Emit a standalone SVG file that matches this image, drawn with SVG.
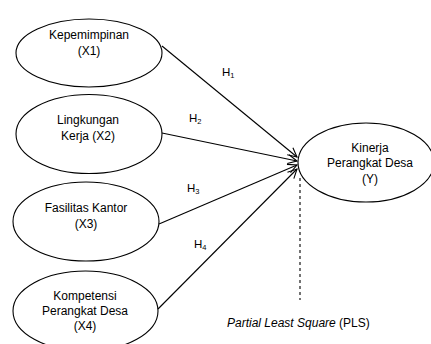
<svg xmlns="http://www.w3.org/2000/svg" width="431" height="344" viewBox="0 0 431 344">
<defs>
<style>
.n{fill:#fff;stroke:#000;stroke-width:1.1}
text{font-family:"Liberation Sans",Arial,sans-serif;font-size:12px;fill:#000}
.t{text-anchor:middle}
.h{font-size:11.5px}
.s{font-size:7.5px}
.c line{stroke:#000;stroke-width:1.1}
</style>
<marker id="a" markerWidth="12" markerHeight="12" viewBox="0 0 12 12" refX="11" refY="6" orient="auto" markerUnits="userSpaceOnUse">
<polyline points="2,1.5 11,6 2,10.5" fill="none" stroke="#000" stroke-width="1.1"/>
</marker>
</defs>
<rect width="431" height="344" fill="#fff"/>
<g id="x1"><ellipse class="n" cx="89" cy="53" rx="73" ry="34"/>
<text class="t" x="89" y="39">Kepemimpinan</text><text class="t" x="89" y="55">(X1)</text></g>
<g id="x2"><ellipse class="n" cx="89" cy="134" rx="73" ry="39.5"/>
<text class="t" x="88" y="124">Lingkungan</text><text class="t" x="88" y="140">Kerja (X2)</text></g>
<g id="x3"><ellipse class="n" cx="86" cy="221.5" rx="73" ry="39.5"/>
<text class="t" x="86" y="212">Fasilitas Kantor</text><text class="t" x="86" y="228">(X3)</text></g>
<g id="x4"><ellipse class="n" cx="85.5" cy="311" rx="72.5" ry="40"/>
<text class="t" x="85" y="300">Kompetensi</text><text class="t" x="85" y="315">Perangkat Desa</text><text class="t" x="85" y="330">(X4)</text></g>
<g id="y"><ellipse class="n" cx="366" cy="162.5" rx="68" ry="39.5"/>
<text class="t" x="370" y="152">Kinerja</text><text class="t" x="370" y="167">Perangkat Desa</text><text class="t" x="370" y="183">(Y)</text></g>
<g class="c" id="connectors">
<line x1="162" y1="46" x2="297" y2="157" marker-end="url(#a)"/>
<line x1="162" y1="133" x2="297" y2="161" marker-end="url(#a)"/>
<line x1="159" y1="224" x2="297" y2="165" marker-end="url(#a)"/>
<line x1="158" y1="309" x2="297" y2="169" marker-end="url(#a)"/>
<line x1="300" y1="178" x2="300" y2="300" stroke-dasharray="3,3"/>
</g>
<g id="labels">
<text class="h" x="222" y="76">H<tspan class="s" dy="2">1</tspan></text>
<text class="h" x="189" y="122">H<tspan class="s" dy="2">2</tspan></text>
<text class="h" x="187" y="192">H<tspan class="s" dy="2">3</tspan></text>
<text class="h" x="194" y="248">H<tspan class="s" dy="2">4</tspan></text>
<text x="227" y="327"><tspan font-style="italic">Partial Least Square</tspan> (PLS)</text>
</g>
</svg>
